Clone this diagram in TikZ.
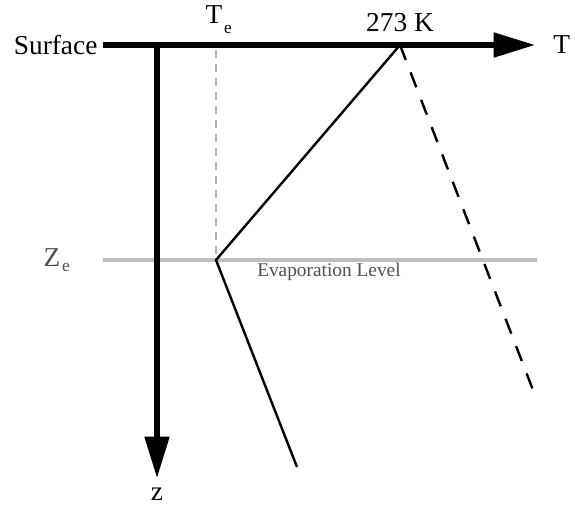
\documentclass[tikz,border=0pt]{standalone}
\usepackage{fontspec}
\setmainfont{Liberation Serif}
\usetikzlibrary{arrows.meta, positioning}
\definecolor{levelgray}{RGB}{190,190,194}
\definecolor{labelgray}{RGB}{80,80,83}
\definecolor{tegray}{RGB}{180,180,184}

\begin{document}
\begin{tikzpicture}[
  x=0.75pt, y=-0.75pt,
  axis/.style={line width=3.8pt, -{Triangle[length=31pt, width=18pt]}},
  profile/.style={line width=1.8pt},
  lbl/.style={inner sep=0pt, font=\fontsize{20.5}{24}\selectfont},
  sub/.style={font=\fontsize{13}{15}\selectfont}
]
\useasboundingbox (0,0) rectangle (575,508);
% points
\coordinate (origin) at (103,45);
\coordinate (tend) at (535,45);
\coordinate (zstart) at (157,43);
\coordinate (zend) at (157,478);
\coordinate (melt) at (400,45);
\coordinate (evap) at (216,260);
\coordinate (deep) at (297,467);
\coordinate (dry) at (533,390);
\coordinate (tetop) at (216,50);
\coordinate (levelL) at (103,260);
\coordinate (levelR) at (537,260);

% evaporation level
\draw[levelgray, line width=3pt] (levelL) -- (levelR);
\draw[tegray, line width=1.5pt, dash pattern=on 6pt off 4.5pt] (tetop) -- (evap);

% axes
\draw[axis] (origin) -- (tend);
\draw[axis] (zstart) -- (zend);

% profiles
\draw[profile] (melt) -- (evap) -- (deep);
\draw[profile, dash pattern=on 12pt off 10pt] (melt) -- (dry);

% labels
\node[lbl, left=4pt of origin] (surface) {Surface};
\node[lbl, anchor=west] (T) at (553,45) {T};
\node[lbl, anchor=north] (z) at (157,488) {z};
\node[lbl, anchor=south] (melting) at (400,32) {273 K};
\node[lbl, anchor=south] (Te) at (214,24) {T};
\node[sub, inner sep=0pt, anchor=north west] (Tesub) at ([xshift=1pt, yshift=-1pt]Te.south east) {e};
\node[lbl, text=labelgray, anchor=south] (Ze) at (52,267) {Z};
\node[sub, text=labelgray, inner sep=0pt, anchor=north west] (Zesub) at ([xshift=1pt, yshift=3pt]Ze.south east) {e};
\node[inner sep=0pt, text=labelgray, anchor=west, font=\fontsize{14.5}{17}\selectfont] (evlabel) at (257,272) {Evaporation Level};
\end{tikzpicture}
\end{document}
